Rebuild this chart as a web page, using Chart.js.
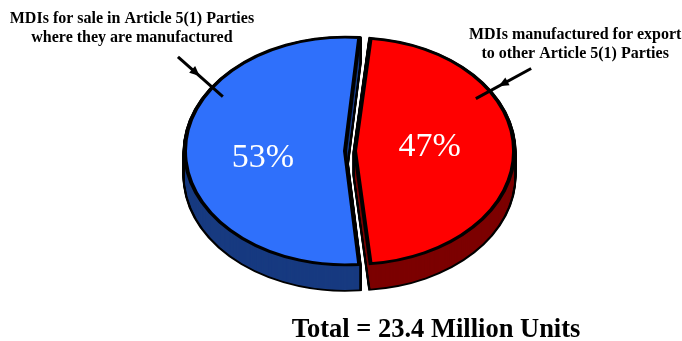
<!DOCTYPE html>
<html>
<head>
<meta charset="utf-8">
<title>MDIs manufactured in Article 5(1) Parties</title>
<script src="https://cdn.jsdelivr.net/npm/chart.js@4.4.1/dist/chart.umd.min.js"></script>
<style>
  html, body { margin: 0; padding: 0; background: #fff; }
  #wrap { width: 682px; height: 341px; }
</style>
</head>
<body>
<div id="wrap"><canvas id="pie"></canvas></div>
<script>
// slice data: share of MDI production (%)
const sliceLabels = [
  ['MDIs for sale in Article 5(1) Parties', 'where they are manufactured'],
  ['MDIs manufactured for export', 'to other Article 5(1) Parties']
];
const shares = [53, 47];
const totalUnits = 23.4;

const topColors = ['#2f70fb', '#ff0000'];
const sideColors = ['#173a80', '#7c0000'];

const TILT = 0.712;   // vertical squash of the pie
const DEPTH = 25;     // thickness of the pie in px
const SERIF = '"Liberation Serif", "Times New Roman", serif';

// callout arrows: angle on the rim, direction of the shaft, lengths outside/inside the rim
const callouts = [
  { rim: 214, dir: 41.6, out: 46, inside: 14, head: 17, text: [-46, -34] },
  { rim: -32, dir: 151.4, out: 47, inside: 16, head: 10, text: [44, -29] }
];
// small shifts for the percentage labels
const pctNudge = [[1, 5], [-8, -6]];

const rad = d => d * Math.PI / 180;

// apply the tilt around the pie centre, lowered by dy pixels
function squash(ctx, arc, dy) {
  ctx.translate(0, dy);
  ctx.translate(arc.x, arc.y);
  ctx.scale(1, TILT);
  ctx.translate(-arc.x, -arc.y);
}

function drawWith(ctx, arc, opts) {
  const saved = arc.options;
  arc.options = Object.assign({}, saved, opts);
  arc.draw(ctx);
  arc.options = saved;
}

// point on an (offset) slice at angle a and fraction f of the radius, in screen space
function slicePoint(arc, a, f) {
  const shift = (arc.options.offset || 0) / 4;
  const half = (arc.startAngle + arc.endAngle) / 2;
  const r = arc.outerRadius + shift * (1 - Math.sin(Math.min(Math.PI, arc.circumference)));
  const cx = arc.x + Math.cos(half) * shift;
  const cy = arc.y + Math.sin(half) * shift * TILT;
  return { x: cx + Math.cos(a) * r * f, y: cy + Math.sin(a) * r * f * TILT };
}

const pie3d = {
  id: 'pie3d',
  beforeDatasetsDraw(chart) {
    const ctx = chart.ctx;
    const arcs = chart.getDatasetMeta(0).data;
    // black outline of the side walls
    arcs.forEach(arc => {
      for (let d = DEPTH; d >= 1; d--) {
        ctx.save();
        squash(ctx, arc, d);
        drawWith(ctx, arc, { backgroundColor: '#000', borderColor: '#000', borderWidth: 5 });
        ctx.restore();
      }
    });
    // dark fill of the side walls
    arcs.forEach((arc, i) => {
      for (let d = DEPTH; d >= 1; d--) {
        ctx.save();
        squash(ctx, arc, d);
        drawWith(ctx, arc, { backgroundColor: sideColors[i], borderWidth: 0 });
        ctx.restore();
      }
    });
    // top face is drawn by the chart itself under the tilt
    ctx.save();
    squash(ctx, arcs[0], 0);
  },
  afterDatasetsDraw(chart) {
    chart.ctx.restore();
  }
};

const notes = {
  id: 'notes',
  afterDraw(chart) {
    const ctx = chart.ctx;
    const arcs = chart.getDatasetMeta(0).data;
    ctx.save();
    ctx.textAlign = 'center';
    ctx.textBaseline = 'alphabetic';

    // percentages
    ctx.fillStyle = '#fff';
    ctx.font = '34px ' + SERIF;
    arcs.forEach((arc, i) => {
      const mid = (arc.startAngle + arc.endAngle) / 2;
      const p = slicePoint(arc, mid, 0.52);
      ctx.fillText(shares[i] + '%', p.x + pctNudge[i][0], p.y + pctNudge[i][1] + 11);
    });

    // callouts
    ctx.fillStyle = '#000';
    ctx.strokeStyle = '#000';
    ctx.lineWidth = 3;
    callouts.forEach((c, i) => {
      const rim = slicePoint(arcs[i], rad(c.rim), 1);
      const ux = Math.cos(rad(c.dir)), uy = Math.sin(rad(c.dir));
      const tail = { x: rim.x - ux * c.out, y: rim.y - uy * c.out };
      const end = { x: rim.x + ux * c.inside, y: rim.y + uy * c.inside };
      const tip = { x: rim.x - ux * c.head, y: rim.y - uy * c.head };
      ctx.beginPath();
      ctx.moveTo(tail.x, tail.y);
      ctx.lineTo(end.x, end.y);
      ctx.stroke();
      // arrow head
      const len = 10, hw = 4.5;
      ctx.beginPath();
      ctx.moveTo(tip.x, tip.y);
      ctx.lineTo(tip.x - ux * len - uy * hw, tip.y - uy * len + ux * hw);
      ctx.lineTo(tip.x - ux * len + uy * hw, tip.y - uy * len - ux * hw);
      ctx.closePath();
      ctx.fill();

      ctx.font = 'bold 16px ' + SERIF;
      const tx = tail.x + c.text[0], ty = tail.y + c.text[1];
      ctx.fillText(sliceLabels[i][0], tx, ty);
      ctx.fillText(sliceLabels[i][1], tx, ty + 19);
    });

    // total
    ctx.font = 'bold 26.5px ' + SERIF;
    ctx.fillText('Total = ' + totalUnits + ' Million Units', 436, 337);
    ctx.restore();
  }
};

new Chart(document.getElementById('pie'), {
  type: 'pie',
  data: {
    labels: sliceLabels.map(l => l.join(' ')),
    datasets: [{
      data: shares,
      backgroundColor: topColors,
      borderColor: '#000',
      borderWidth: 4,
      borderJoinStyle: 'miter',
      offset: 20,
      clip: false
    }]
  },
  options: {
    responsive: true,
    maintainAspectRatio: false,
    animation: false,
    events: [],
    radius: 155,
    rotation: 90 + shares[1] * 1.8,
    layout: { padding: { left: 18, right: 0, top: 0, bottom: 39 } },
    plugins: {
      legend: { display: false },
      tooltip: { enabled: false }
    }
  },
  plugins: [pie3d, notes]
});
</script>
</body>
</html>
